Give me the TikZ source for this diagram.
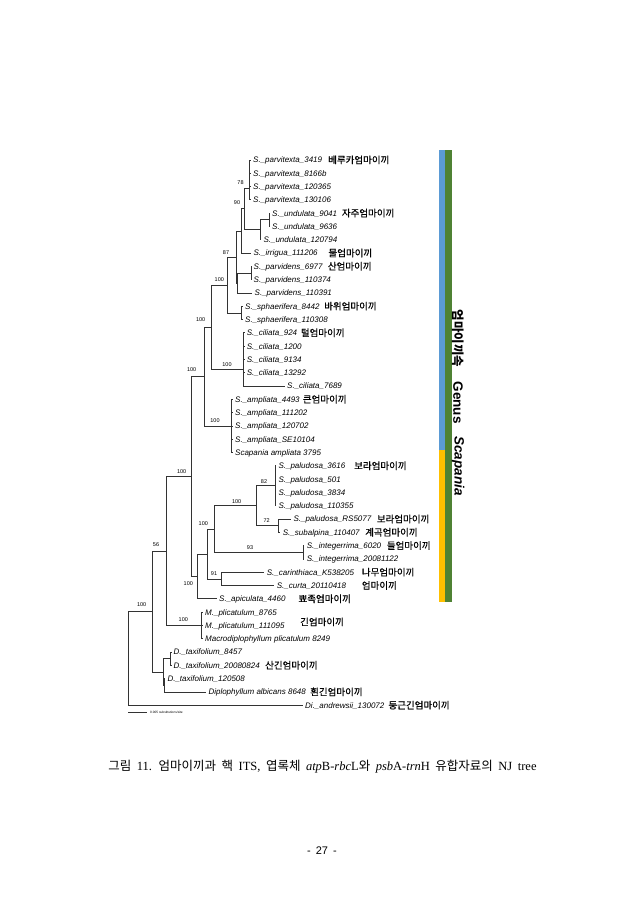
\documentclass[tikz,border=0pt]{standalone}
\usepackage{fontspec}
\setmainfont{Liberation Serif}
\setsansfont{Liberation Sans}
\newfontfamily\cjk{Noto Sans CJK KR}
\newfontfamily\cjkk{Noto Sans CJK KR}[FakeBold=0.6]
\definecolor{barblue}{HTML}{5B9BD5}
\definecolor{bargreen}{HTML}{4F8234}
\definecolor{baryellow}{HTML}{FFC000}
\begin{document}
\begin{tikzpicture}[x=1pt,y=-1pt,
  br/.style={line width=0.85pt, draw=black!80},
  leaf/.style={anchor=west, inner xsep=2.5pt, inner ysep=0pt, font=\sffamily\itshape\fontsize{8}{9}\selectfont, text height=5.7pt, text depth=0pt},
  kor/.style={anchor=west, inner sep=0pt, font=\cjkk\fontsize{9.5}{10}\selectfont, text height=6.8pt, text depth=0pt},
  bs/.style={inner sep=0pt, font=\sffamily\fontsize{5.5}{6}\selectfont}]
\fill[white] (0,0) rectangle (643,910);
\useasboundingbox (0,0) rectangle (643,910);

% leaves
\node[leaf] (l1) at (250.5,160) {S.\_parvitexta\_3419};
\node[leaf] (l2) at (250.5,173.3) {S.\_parvitexta\_8166b};
\node[leaf] (l3) at (250.5,186.6) {S.\_parvitexta\_120365};
\node[leaf] (l4) at (250.5,199.9) {S.\_parvitexta\_130106};
\node[leaf] (l5) at (269.5,213.2) {S.\_undulata\_9041};
\node[leaf] (l6) at (269.5,226.5) {S.\_undulata\_9636};
\node[leaf] (l7) at (260.8,239.8) {S.\_undulata\_120794};
\node[leaf] (l8) at (250.8,253.1) {S.\_irrigua\_111206};
\node[leaf] (l9) at (251,266.4) {S.\_parvidens\_6977};
\node[leaf] (l10) at (251,279.7) {S.\_parvidens\_110374};
\node[leaf] (l11) at (252,293) {S.\_parvidens\_110391};
\node[leaf] (l12) at (242.5,306.3) {S.\_sphaerifera\_8442};
\node[leaf] (l13) at (242.5,319.6) {S.\_sphaerifera\_110308};
\node[leaf] (l14) at (244.2,332.9) {S.\_ciliata\_924};
\node[leaf] (l15) at (244.2,346.2) {S.\_ciliata\_1200};
\node[leaf] (l16) at (244.2,359.5) {S.\_ciliata\_9134};
\node[leaf] (l17) at (244.2,372.8) {S.\_ciliata\_13292};
\node[leaf] (l18) at (284.5,386.1) {S.\_ciliata\_7689};
\node[leaf] (l19) at (232.5,399.4) {S.\_ampliata\_4493};
\node[leaf] (l20) at (232.5,412.7) {S.\_ampliata\_111202};
\node[leaf] (l21) at (232.5,426) {S.\_ampliata\_120702};
\node[leaf] (l22) at (232.5,439.3) {S.\_ampliata\_SE10104};
\node[leaf] (l23) at (232.5,452.6) {Scapania ampliata 3795};
\node[leaf] (l24) at (275.8,465.9) {S.\_paludosa\_3616};
\node[leaf] (l25) at (275.8,479.2) {S.\_paludosa\_501};
\node[leaf] (l26) at (275.8,492.5) {S.\_paludosa\_3834};
\node[leaf] (l27) at (275.8,505.8) {S.\_paludosa\_110355};
\node[leaf] (l28) at (290.8,519.1) {S.\_paludosa\_RS5077};
\node[leaf] (l29) at (280.2,532.4) {S.\_subalpina\_110407};
\node[leaf] (l30) at (304.2,545.7) {S.\_integerrima\_6020};
\node[leaf] (l31) at (304.2,559) {S.\_integerrima\_20081122};
\node[leaf] (l32) at (264.2,572.3) {S.\_carinthiaca\_K538205};
\node[leaf] (l33) at (274.2,585.6) {S.\_curta\_20110418};
\node[leaf] (l34) at (216.5,598.9) {S.\_apiculata\_4460};
\node[leaf] (l35) at (202.5,612.2) {M.\_plicatulum\_8765};
\node[leaf] (l36) at (202.5,625.5) {M.\_plicatulum\_111095};
\node[leaf] (l37) at (202.5,638.8) {Macrodiplophyllum plicatulum 8249};
\node[leaf] (l38) at (170.8,652.1) {D.\_taxifolium\_8457};
\node[leaf] (l39) at (170.8,665.4) {D.\_taxifolium\_20080824};
\node[leaf] (l40) at (164.8,678.7) {D.\_taxifolium\_120508};
\node[leaf] (l41) at (205.8,692) {Diplophyllum albicans 8648};
\node[leaf] (l42) at (302.5,705.3) {Di.\_andrewsii\_130072};

% internal nodes
\coordinate (Q) at (249,188);
\coordinate (UP) at (269,219.85);
\coordinate (U2) at (260,229.8);
\coordinate (B) at (244.5,208.9);
\coordinate (A) at (241.5,231);
\coordinate (PP) at (251,273.05);
\coordinate (P) at (237.5,283);
\coordinate (C) at (236.7,257);
\coordinate (SPH) at (241.5,313);
\coordinate (D) at (227,285);
\coordinate (CIL) at (243.5,369.5);
\coordinate (F) at (211.7,327.2);
\coordinate (AMP) at (231.7,426);
\coordinate (G) at (204,376.6);
\coordinate (PAL) at (275,485.85);
\coordinate (N72) at (278.3,525.75);
\coordinate (M) at (256.5,505.8);
\coordinate (INT) at (303.3,552.35);
\coordinate (K) at (214.5,529.1);
\coordinate (N91) at (221.7,578.95);
\coordinate (J) at (207.3,554);
\coordinate (I) at (197.3,576.5);
\coordinate (H) at (191.5,476.5);
\coordinate (PLI) at (201.7,625.5);
\coordinate (T) at (166,551);
\coordinate (TAXP) at (170.7,658.75);
\coordinate (V) at (164.3,685.35);
\coordinate (U) at (163.3,672);
\coordinate (S) at (152,611.5);
\coordinate (R) at (128.3,658.4);

% branches
\foreach \l in {l1,l2,l3,l4} \draw[br] (Q) |- (\l.west);
\draw[br] (UP) |- (l5.west); \draw[br] (UP) |- (l6.west);
\draw[br] (U2) |- (UP); \draw[br] (U2) |- (l7.west);
\draw[br] (B) |- (Q); \draw[br] (B) |- (U2);
\draw[br] (A) |- (B); \draw[br] (A) |- (l8.west);
\draw[br] (PP) |- (l9.west); \draw[br] (PP) |- (l10.west);
\draw[br] (P) |- (PP); \draw[br] (P) |- (l11.west);
\draw[br] (C) |- (A); \draw[br] (C) |- (P);
\draw[br] (SPH) |- (l12.west); \draw[br] (SPH) |- (l13.west);
\draw[br] (D) |- (C); \draw[br] (D) |- (SPH);
\foreach \l in {l14,l15,l16,l17,l18} \draw[br] (CIL) |- (\l.west);
\draw[br] (F) |- (D); \draw[br] (F) |- (CIL);
\foreach \l in {l19,l20,l21,l22,l23} \draw[br] (AMP) |- (\l.west);
\draw[br] (G) |- (F); \draw[br] (G) |- (AMP);
\foreach \l in {l24,l25,l26,l27} \draw[br] (PAL) |- (\l.west);
\draw[br] (N72) |- (l28.west); \draw[br] (N72) |- (l29.west);
\draw[br] (M) |- (PAL); \draw[br] (M) |- (N72);
\draw[br] (INT) |- (l30.west); \draw[br] (INT) |- (l31.west);
\draw[br] (K) |- (M); \draw[br] (K) |- (INT);
\draw[br] (N91) |- (l32.west); \draw[br] (N91) |- (l33.west);
\draw[br] (J) |- (K); \draw[br] (J) |- (N91);
\draw[br] (I) |- (J); \draw[br] (I) |- (l34.west);
\draw[br] (H) |- (G); \draw[br] (H) |- (I);
\foreach \l in {l35,l36,l37} \draw[br] (PLI) |- (\l.west);
\draw[br] (T) |- (H); \draw[br] (T) |- (PLI);
\draw[br] (TAXP) |- (l38.west); \draw[br] (TAXP) |- (l39.west);
\draw[br] (V) |- (l40.west); \draw[br] (V) |- (l41.west);
\draw[br] (U) |- (TAXP); \draw[br] (U) |- (V);
\draw[br] (S) |- (T); \draw[br] (S) |- (U);
\draw[br] (R) |- (S); \draw[br] (R) |- (l42.west);

% bootstrap values
\node[bs] (b78) at (240.5,183) {78};
\node[bs] (b90) at (237,203) {90};
\node[bs] (b87) at (226,253) {87};
\node[bs] (bD) at (219.3,280) {100};
\node[bs] (bF) at (200.7,320) {100};
\node[bs] (bCIL) at (227,365) {100};
\node[bs] (bG) at (191.7,370) {100};
\node[bs] (bAMP) at (215,421) {100};
\node[bs] (bH) at (181.7,472) {100};
\node[bs] (b82) at (264,481.7) {82};
\node[bs] (bM) at (236.7,501.7) {100};
\node[bs] (b72) at (266.7,521) {72};
\node[bs] (bK) at (203.3,524) {100};
\node[bs] (b93) at (250,547.7) {93};
\node[bs] (b91) at (214,574) {91};
\node[bs] (bI) at (188.3,584) {100};
\node[bs] (b56) at (156,545) {56};
\node[bs] (bPLI) at (183.3,620) {100};
\node[bs] (bS) at (141.7,605) {100};

% Korean names
\node[kor] (k1) at (328,160) {베루카엄마이끼};
\node[kor] (k2) at (341.7,213.2) {자주엄마이끼};
\node[kor] (k3) at (328.3,253.1) {물엄마이끼};
\node[kor] (k4) at (327.7,266.4) {산엄마이끼};
\node[kor] (k5) at (324,306.3) {바위엄마이끼};
\node[kor] (k6) at (300.7,332.9) {털엄마이끼};
\node[kor] (k7) at (302.7,399.4) {큰엄마이끼};
\node[kor] (k8) at (354,465.9) {보라엄마이끼};
\node[kor] (k9) at (376.7,519.1) {보라엄마이끼};
\node[kor] (k10) at (365,532.4) {계곡엄마이끼};
\node[kor] (k11) at (386.7,545.7) {들엄마이끼};
\node[kor] (k12) at (361.7,572.3) {나무엄마이끼};
\node[kor] (k13) at (361.7,585.6) {엄마이끼};
\node[kor] (k14) at (298.3,598.9) {뾰족엄마이끼};
\node[kor] (k15) at (300,622) {긴엄마이끼};
\node[kor] (k16) at (265,665.4) {산긴엄마이끼};
\node[kor] (k17) at (310,692) {흰긴엄마이끼};
\node[kor] (k18) at (388.3,705.3) {둥근긴엄마이끼};

% scale bar
\coordinate (sb1) at (128.3,712.3);
\coordinate (sb2) at (146.7,712.3);
\draw[br] (sb1) -- (sb2);
\node[anchor=west, inner sep=0pt, font=\sffamily\fontsize{3.2}{4}\selectfont] (sbt) at (150,712.3) {0.005 substitutions/site};

% genus bars
\fill[barblue] (439.3,150) rectangle (445,450);
\fill[baryellow] (439.3,450) rectangle (445,601.7);
\fill[bargreen] (445,150) rectangle (451.7,601.7);
\node[rotate=-90, inner sep=0pt, font=\cjk\bfseries\fontsize{12.5}{13}\selectfont] (gk) at (458,338.5) {엄마이끼속};
\node[rotate=-90, inner sep=0pt, font=\sffamily\bfseries\fontsize{13.5}{14}\selectfont] (gg) at (458,402.5) {Genus};
\node[rotate=-90, inner sep=0pt, font=\sffamily\bfseries\itshape\fontsize{13.5}{14}\selectfont] (gs) at (458,466) {Scapania};

% caption
\node[inner sep=0pt, font=\fontsize{12.5}{14}\selectfont] (cap) at (322.5,767)
  {\spaceskip=5.5pt {\cjk 그림} 11. {\cjk 엄마이끼과 핵} ITS, {\cjk 엽록체} \textit{atp}B-\textit{rbc}L{\cjk 와} \textit{psb}A-\textit{trn}H {\cjk 유합자료의} NJ tree};
\node[inner sep=0pt, font=\sffamily\fontsize{11}{12}\selectfont] (pg) at (322,851) {-\hspace{5pt}27\hspace{5pt}-};
\end{tikzpicture}
\end{document}
